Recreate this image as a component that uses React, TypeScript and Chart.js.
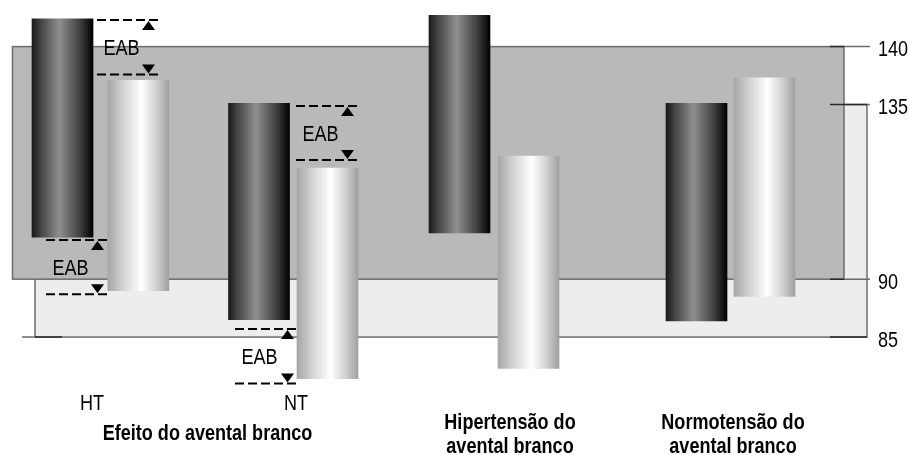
import React, { useEffect, useRef } from "react";
import { Chart, registerables } from "chart.js";

Chart.register(...registerables);

// ---- data (mmHg) ----
const groups = ["HT", "NT", "Hipertensão do avental branco", "Normotensão do avental branco"];
const officeHigh = [142.4, 135.1, 142.7, 135.1];
const officeLow = [100.8, 86.5, 101.9, 86.4];
const ambHigh = [137.1, 118.6, 121.7, 137.3];
const ambLow = [89.0, 81.4, 82.3, 88.5];
const officePos = [6.25, 25.9, 45.95, 69.65];
const ambPos = [13.83, 32.75, 52.85, 76.45];
const tickValues = [85, 90, 135, 140];
const officeLimit = [140, 90];
const ambLimit = [135, 85];
const eabLabel = "EAB";
const eabStart = [9.7, 4.6, 29.6, 23.5];
const eabEnd = [15.8, 10.7, 35.7, 29.7];
const eabHigh = [142.3, 100.1, 134.6, 85.7];
const eabLow = [137.6, 88.7, 120.7, 81.0];
const groupLabelLines = [["HT"], ["NT"], ["Hipertensão do", "avental branco"], ["Normotensão do", "avental branco"]];
const groupLabelBold = [false, false, true, true];
const groupLabelPos = [9.2, 29.6, 51.0, 73.3];
const sectionTitle = "Efeito do avental branco";
const sectionTitlePos = 20.75;

// broken (compressed) value axis between 90 and 135
const COMPRESS = 0.335;
const fy = (v: number) =>
  v <= 90 ? v : v <= 135 ? 90 + (v - 90) * COMPRESS : 90 + 45 * COMPRESS + (v - 135);

const FONT = "'Liberation Sans', Arial, Helvetica, sans-serif";
const NARROW = 0.82;

const darkStops: [number, string][] = [
  [0, "#1a1a1a"], [0.15, "#454545"], [0.45, "#8f8f8f"], [0.8, "#3c3c3c"], [1, "#000000"],
];
const lightStops: [number, string][] = [
  [0, "#a6a6a6"], [0.25, "#d3d3d3"], [0.55, "#ffffff"], [0.8, "#d0d0d0"], [1, "#a0a0a0"],
];

function gradFill(stops: [number, string][]) {
  return (c: any) => {
    const chart = c.chart;
    const raw = c.raw;
    if (!chart.chartArea || !raw || !chart.scales.x) return stops[2][1];
    const cx = chart.scales.x.getPixelForValue(raw.x);
    const g = chart.ctx.createLinearGradient(cx - 30.5, 0, cx + 30.5, 0);
    stops.forEach(([o, col]) => g.addColorStop(o, col));
    return g;
  };
}

function narrowText(ctx: CanvasRenderingContext2D, text: string, x: number, y: number, font: string, align: CanvasTextAlign) {
  ctx.save();
  ctx.translate(x, y);
  ctx.scale(NARROW, 1);
  ctx.font = font;
  ctx.textAlign = align;
  ctx.textBaseline = "alphabetic";
  ctx.fillStyle = "#000";
  ctx.fillText(text, 0, 0);
  ctx.restore();
}

const zonesPlugin = {
  id: "zones",
  beforeDatasetsDraw(chart: any) {
    const { ctx, scales } = chart;
    const px = (u: number) => scales.x.getPixelForValue(u);
    const py = (v: number) => scales.y.getPixelForValue(fy(v));
    const oT = py(officeLimit[0]), oB = py(officeLimit[1]);
    const aT = py(ambLimit[0]), aB = py(ambLimit[1]);
    const oL = px(1.25), oR = px(84.4);
    const aL = px(3.5), aR = px(86.7);
    const tickEnd = px(87.0), tickStart = px(83.0);
    ctx.save();
    ctx.fillStyle = "#ededed";
    ctx.fillRect(aL, aT, aR - aL, aB - aT);
    ctx.strokeStyle = "#6b6b6b";
    ctx.lineWidth = 1.5;
    ctx.strokeRect(aL, aT, aR - aL, aB - aT);
    ctx.fillStyle = "#b9b9b9";
    ctx.fillRect(oL, oT, oR - oL, oB - oT);
    ctx.strokeRect(oL, oT, oR - oL, oB - oT);
    ctx.beginPath();
    ctx.moveTo(oR, oT); ctx.lineTo(tickEnd, oT);
    ctx.moveTo(oR, oB); ctx.lineTo(tickEnd, oB);
    ctx.moveTo(aR, aT); ctx.lineTo(tickEnd, aT);
    ctx.moveTo(px(2.2), aB); ctx.lineTo(aL, aB);
    ctx.stroke();
    ctx.strokeStyle = "#2a2a2a";
    ctx.beginPath();
    ctx.moveTo(tickStart, oT); ctx.lineTo(oR, oT);
    ctx.moveTo(tickStart, oB); ctx.lineTo(oR, oB);
    ctx.moveTo(tickStart, aT); ctx.lineTo(aR, aT);
    ctx.moveTo(tickStart, aB); ctx.lineTo(aR, aB);
    ctx.moveTo(aL, aB); ctx.lineTo(px(6.2), aB);
    ctx.stroke();
    ctx.restore();
  },
  afterDatasetsDraw(chart: any) {
    const { ctx, scales, chartArea } = chart;
    const px = (u: number) => scales.x.getPixelForValue(u);
    const py = (v: number) => scales.y.getPixelForValue(fy(v));
    ctx.save();
    for (let i = 0; i < eabStart.length; i++) {
      const x0 = px(eabStart[i]), x1 = px(eabEnd[i]);
      const yh = py(eabHigh[i]), yl = py(eabLow[i]);
      ctx.strokeStyle = "#000";
      ctx.lineWidth = 2;
      ctx.setLineDash([9, 4]);
      ctx.beginPath();
      ctx.moveTo(x0, yh); ctx.lineTo(x1, yh);
      ctx.moveTo(x0, yl); ctx.lineTo(x1, yl);
      ctx.stroke();
      ctx.setLineDash([]);
      const ax = x1 - 9.5;
      ctx.fillStyle = "#000";
      ctx.beginPath();
      ctx.moveTo(ax, yh + 1); ctx.lineTo(ax - 6.5, yh + 10); ctx.lineTo(ax + 6.5, yh + 10);
      ctx.closePath(); ctx.fill();
      ctx.beginPath();
      ctx.moveTo(ax, yl - 1); ctx.lineTo(ax - 6.5, yl - 10); ctx.lineTo(ax + 6.5, yl - 10);
      ctx.closePath(); ctx.fill();
      narrowText(ctx, eabLabel, x0 + 24.5, (yh + yl) / 2 + 8, `22px ${FONT}`, "center");
    }
    // value-axis labels at the axis' own ticks
    const ys = scales.y;
    ys.ticks.forEach((t: any, i: number) => {
      narrowText(ctx, String(tickValues[i]), ys.left + 7, ys.getPixelForValue(t.value) + 9.5, `22px ${FONT}`, "left");
    });
    const b = chartArea.bottom;
    groupLabelLines.forEach((lines, i) => {
      const font = `${groupLabelBold[i] ? "bold " : ""}22px ${FONT}`;
      const base = groupLabelBold[i] ? b + 34 : b + 15;
      lines.forEach((t, j) => narrowText(ctx, t, px(groupLabelPos[i]), base + j * 24, font, "center"));
    });
    narrowText(ctx, sectionTitle, px(sectionTitlePos), b + 45, `bold 22px ${FONT}`, "center");
    ctx.restore();
  },
};

export default function App() {
  const ref = useRef<HTMLCanvasElement | null>(null);
  useEffect(() => {
    document.body.style.margin = "0";
    document.body.style.overflow = "hidden";
    if (!ref.current) return;
    const chart = new Chart(ref.current, {
      type: "bar",
      data: {
        labels: groups,
        datasets: [
          {
            label: "Consultório",
            data: officePos.map((x, i) => ({ x, y: [fy(officeLow[i]), fy(officeHigh[i])] })) as any,
            backgroundColor: gradFill(darkStops) as any,
            borderWidth: 0,
          },
          {
            label: "Ambulatorial",
            data: ambPos.map((x, i) => ({ x, y: [fy(ambLow[i]), fy(ambHigh[i])] })) as any,
            backgroundColor: gradFill(lightStops) as any,
            borderWidth: 0,
          },
        ],
      },
      options: {
        animation: false,
        responsive: true,
        maintainAspectRatio: false,
        grouped: false,
        barThickness: 61,
        layout: { padding: { left: 0, right: 0, top: 0, bottom: 60 } },
        plugins: { legend: { display: false }, tooltip: { enabled: false } },
        scales: {
          x: { type: "linear", display: false, min: 0, max: 87.1, offset: false },
          y: {
            type: "linear",
            position: "right",
            min: 80,
            max: 114.1,
            grid: { display: false, drawTicks: false },
            border: { display: false },
            afterBuildTicks: (s: any) => {
              s.ticks = tickValues.map((v) => ({ value: fy(v) }));
            },
            afterFit: (s: any) => {
              s.width = 38;
              s.paddingTop = 0;
              s.paddingBottom = 0;
            },
            ticks: {
              display: false,
              autoSkip: false,
              callback: (_v: any, i: number) => String(tickValues[i]),
            },
          },
        },
      } as any,
      plugins: [zonesPlugin],
    });
    return () => chart.destroy();
  }, []);
  return (
    <div style={{ position: "relative", width: 909, height: 455 }}>
      <canvas ref={ref} />
    </div>
  );
}
